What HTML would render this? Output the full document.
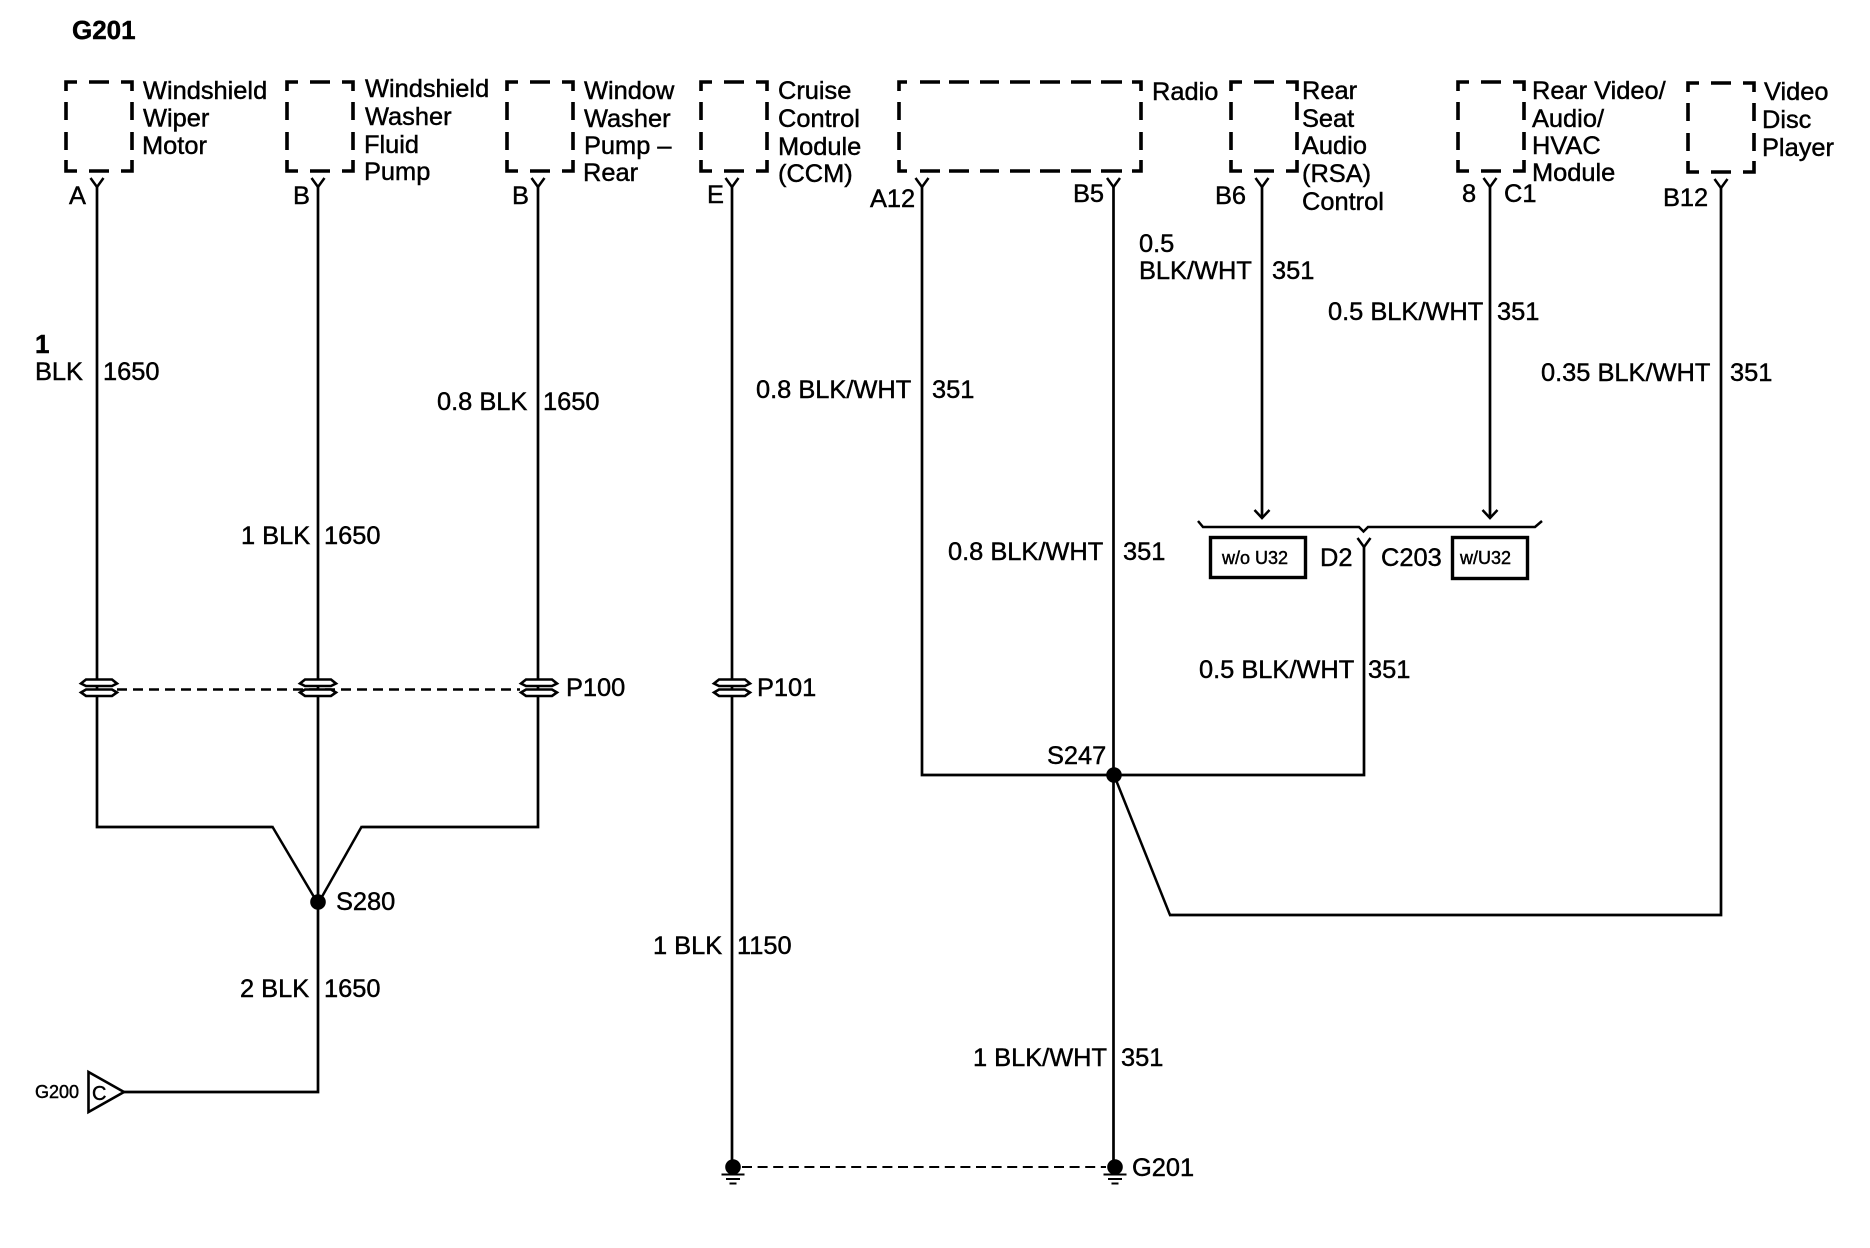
<!DOCTYPE html>
<html>
<head>
<meta charset="utf-8">
<style>
html,body{margin:0;padding:0;background:#fff;}
svg{display:block;}
text{font-family:"Liberation Sans",Arial,sans-serif;font-size:25.4px;fill:#000;stroke:#000;stroke-width:.45px;}
.s{font-size:18px;}
.c{font-size:20px;}
.b{font-weight:bold;font-size:26px;}
.w{fill:none;stroke:#000;stroke-width:2.7;}
.d{fill:none;stroke:#000;stroke-width:3.6;}
.t{fill:none;stroke:#000;stroke-width:2.5;}
</style>
</head>
<body>
<svg width="1870" height="1248" viewBox="0 0 1870 1248" xmlns="http://www.w3.org/2000/svg">
<rect width="1870" height="1248" fill="#fff"/>
<defs>
<path id="bx" class="d" d="M1 10V1H12M24 1H44M56 1H67V10M67 21V39M67 51V69M67 79V90H56M44 90H24M12 90H1V79M1 69V51M1 39V21"/>
<path id="fk" class="t" d="M-6.5 -9L0 0L6.5 -9"/>
<g id="pc">
<path d="M-18 -6L-13 -10H13L18 -6L13 -3.500H-13Z" fill="#fff" stroke="#000" stroke-width="2.600"/>
<path d="M-18 3L-13 0H13L18 3L13 6.500H-13Z" fill="#fff" stroke="#000" stroke-width="2.600"/>
</g>
<g id="gd">
<circle cx="0" cy="0" r="7.800" fill="#000"/>
<path d="M-11.500 7.500H11.500M-7 12H7M-3.500 16.500H3.500" fill="none" stroke="#000" stroke-width="2"/>
</g>
</defs>

<!-- component boxes -->
<use href="#bx" x="65" y="81"/>
<use href="#bx" x="286" y="81"/>
<use href="#bx" x="506" y="81"/>
<use href="#bx" x="700" y="81"/>
<path class="d" d="M899 91V82H907M920 82H940M949 82H969M980 82H999M1010 82H1030M1040 82H1060M1071 82H1091M1101 82H1122M1132 82H1141V91M1141 102V120M1141 132V150M1141 160V171H1132M1122 171H1101M1091 171H1071M1060 171H1040M1030 171H1010M999 171H980M969 171H949M940 171H920M907 171H899V160M899 150V132M899 120V102"/>
<use href="#bx" x="1230" y="81"/>
<use href="#bx" x="1457" y="81"/>
<use href="#bx" x="1687" y="82"/>

<!-- wires -->
<path class="w" d="M97 187V827H272"/>
<path class="t" d="M272 826L317 902"/>
<path class="w" d="M318 187V1092H124"/>
<path class="w" d="M538 187V827H362"/>
<path class="t" d="M362 826L319 902"/>
<path class="w" d="M732 187V1167"/>
<path class="w" d="M922 187V775H1364V547"/>
<path class="w" d="M1113.500 187V1167"/>
<path class="t" d="M1114 775L1170 915"/>
<path class="w" d="M1169 915H1721V187"/>
<path class="w" d="M1262 187V517"/>
<path class="w" d="M1490 187V517"/>

<!-- Y connectors -->
<use href="#fk" x="97" y="187"/>
<use href="#fk" x="318" y="187"/>
<use href="#fk" x="538" y="187"/>
<use href="#fk" x="732" y="187"/>
<use href="#fk" x="922" y="187"/>
<use href="#fk" x="1113.500" y="187"/>
<use href="#fk" x="1262" y="187"/>
<use href="#fk" x="1490" y="187"/>
<use href="#fk" x="1721" y="188"/>
<use href="#fk" x="1364" y="547"/>

<!-- arrows -->
<path class="t" d="M1254.500 510L1262 518L1269.500 510"/>
<path class="t" d="M1482.500 510L1490 518L1497.500 510"/>

<!-- bracket -->
<path class="t" d="M1198 521L1203 527H1359L1363.500 531.500L1368 527H1535L1542 521"/>

<!-- option boxes -->
<rect x="1210.500" y="537.500" width="95" height="40" fill="none" stroke="#000" stroke-width="3.400"/>
<rect x="1452.500" y="537.500" width="75" height="41" fill="none" stroke="#000" stroke-width="3.400"/>

<!-- pass-through dashes -->
<path d="M117 689.500H520" fill="none" stroke="#000" stroke-width="2.600" stroke-dasharray="10 6"/>

<!-- inline connectors -->
<use href="#pc" x="99" y="689.500"/>
<use href="#pc" x="318" y="689.500"/>
<use href="#pc" x="539" y="689.500"/>
<use href="#pc" x="732" y="689.500"/>

<!-- splices -->
<circle cx="318" cy="902" r="7.800" fill="#000"/>
<circle cx="1114" cy="775" r="7.800" fill="#000"/>

<!-- ground -->
<path d="M742 1167H1106" fill="none" stroke="#000" stroke-width="2" stroke-dasharray="10 5.600"/>
<use href="#gd" x="733" y="1167"/>
<use href="#gd" x="1115" y="1167"/>

<!-- G200 triangle -->
<path d="M88.500 1072L124 1092L88.500 1112Z" fill="#fff" stroke="#000" stroke-width="2.600"/>

<!-- labels -->
<text class="b" x="72" y="39">G201</text>
<text x="143" y="99">Windshield</text>
<text x="143" y="126.500">Wiper</text>
<text x="142" y="154">Motor</text>
<text x="365" y="97">Windshield</text>
<text x="365" y="125">Washer</text>
<text x="364" y="153">Fluid</text>
<text x="364" y="180">Pump</text>
<text x="584" y="99">Window</text>
<text x="584" y="127">Washer</text>
<text x="584" y="154">Pump –</text>
<text x="583" y="181">Rear</text>
<text x="778" y="99">Cruise</text>
<text x="778" y="127">Control</text>
<text x="778" y="155">Module</text>
<text x="778" y="182">(CCM)</text>
<text x="1152" y="100">Radio</text>
<text x="1302" y="99">Rear</text>
<text x="1302" y="127">Seat</text>
<text x="1302" y="154">Audio</text>
<text x="1302" y="182">(RSA)</text>
<text x="1302" y="210">Control</text>
<text x="1532" y="99">Rear Video/</text>
<text x="1532" y="127">Audio/</text>
<text x="1532" y="154">HVAC</text>
<text x="1532" y="181">Module</text>
<text x="1764" y="100">Video</text>
<text x="1762" y="128">Disc</text>
<text x="1762" y="156">Player</text>

<text x="69" y="204">A</text>
<text x="293" y="204">B</text>
<text x="512" y="204">B</text>
<text x="707" y="203">E</text>
<text x="870" y="207">A12</text>
<text x="1073" y="202">B5</text>
<text x="1215" y="204">B6</text>
<text x="1462" y="202">8</text>
<text x="1504" y="202">C1</text>
<text x="1663" y="206">B12</text>

<text class="b" x="35" y="353">1</text>
<text x="35" y="380">BLK</text>
<text x="103" y="380">1650</text>
<text x="437" y="410">0.8 BLK</text>
<text x="543" y="410">1650</text>
<text x="241" y="544">1 BLK</text>
<text x="324" y="544">1650</text>
<text x="756" y="398">0.8 BLK/WHT</text>
<text x="932" y="398">351</text>
<text x="1139" y="252">0.5</text>
<text x="1139" y="279">BLK/WHT</text>
<text x="1272" y="279">351</text>
<text x="1328" y="320">0.5 BLK/WHT</text>
<text x="1497" y="320">351</text>
<text x="1541" y="381">0.35 BLK/WHT</text>
<text x="1730" y="381">351</text>
<text x="948" y="560">0.8 BLK/WHT</text>
<text x="1123" y="560">351</text>
<text x="1199" y="678">0.5 BLK/WHT</text>
<text x="1368" y="678">351</text>
<text x="1320" y="566">D2</text>
<text x="1381" y="566">C203</text>
<text class="s" x="1222" y="564">w/o U32</text>
<text class="s" x="1460" y="564">w/U32</text>
<text x="566" y="696">P100</text>
<text x="757" y="696">P101</text>
<text x="1047" y="764">S247</text>
<text x="336" y="910">S280</text>
<text x="240" y="997">2 BLK</text>
<text x="324" y="997">1650</text>
<text x="653" y="954">1 BLK</text>
<text x="737" y="954">1150</text>
<text x="973" y="1066">1 BLK/WHT</text>
<text x="1121" y="1066">351</text>
<text x="1132" y="1176">G201</text>
<text class="s" x="35" y="1098">G200</text>
<text class="c" x="92" y="1100">C</text>
</svg>
</body>
</html>
